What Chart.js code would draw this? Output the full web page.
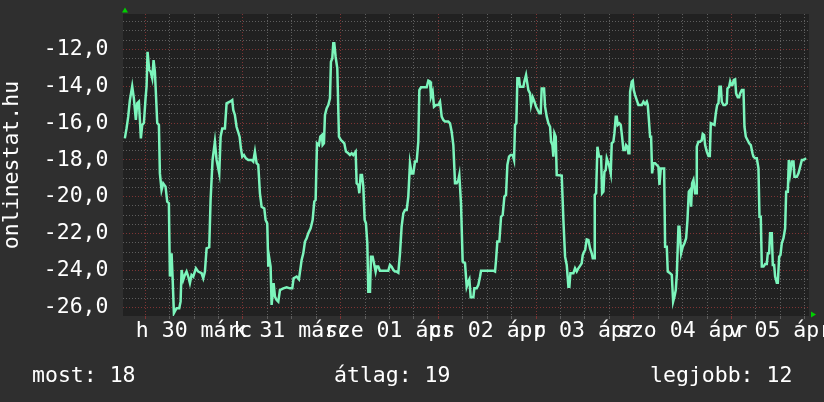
<!DOCTYPE html>
<html>
<head>
<meta charset="utf-8">
<script src="https://cdn.jsdelivr.net/npm/chart.js@4/dist/chart.umd.min.js"></script>
<style>
  html, body { margin: 0; padding: 0; background: #2f2f2f; }
  canvas { display: block; }
</style>
</head>
<body>
<canvas id="tempChart" width="824" height="402"></canvas>
<script>
// hours since márc 30 00:00, temperature
const readings = [
  [-5.0,-16.83],[-4.58,-16.29],[-4.17,-15.65],[-3.76,-14.75],[-3.19,-14.0],[-2.78,-14.66],[-2.29,-15.83],[-1.96,-14.93],
  [-1.55,-14.84],[-1.3,-15.83],[-1.06,-16.83],[-0.73,-16.1],[-0.32,-16.0],[0.09,-14.66],[0.34,-14.0],[0.58,-12.13],
  [0.99,-13.12],[1.32,-13.2],[1.73,-13.57],[2.06,-12.58],[2.38,-13.2],[2.55,-14.0],[2.96,-16.0],[3.37,-16.1],
  [3.61,-18.73],[4.02,-19.63],[4.43,-19.27],[5.0,-19.45],[5.41,-20.26],[5.82,-20.35],[6.07,-24.33],[6.48,-23.07],
  [6.72,-24.33],[7.05,-26.32],[7.71,-26.05],[8.36,-26.05],[8.69,-25.69],[8.94,-23.97],[9.35,-24.51],[9.75,-24.24],
  [10.16,-24.06],[10.57,-24.33],[10.98,-24.69],[11.39,-24.24],[11.8,-24.33],[12.46,-23.88],[13.03,-24.06],[13.85,-24.15],
  [14.26,-24.42],[14.67,-24.06],[15.08,-22.8],[15.73,-22.74],[16.06,-20.17],[16.55,-18.0],[17.12,-17.0],[17.53,-18.0],
  [18.19,-18.73],[18.52,-16.74],[18.93,-16.29],[19.58,-16.29],[19.99,-14.93],[20.81,-14.84],[21.38,-14.75],[21.63,-15.29],
  [22.03,-15.56],[22.44,-16.2],
  [23.19,-16.74],[23.51,-17.37],[23.84,-17.82],[24.25,-17.73],[24.74,-17.91],[25.32,-18.0],[26.13,-18.0],[26.54,-18.09],
  [26.95,-17.55],[27.36,-18.18],[27.77,-18.27],[28.18,-19.81],[28.59,-20.54],[29.25,-20.63],[29.57,-21.26],[29.98,-21.44],
  [30.23,-23.79],[30.48,-23.34],[30.8,-23.79],[31.05,-25.87],[31.54,-24.69],[31.87,-25.42],[32.28,-25.6],[32.69,-25.69],
  [33.1,-25.06],[33.91,-24.97],[34.73,-24.91],[35.55,-24.97],[36.12,-24.97],[36.45,-24.42],[37.19,-24.33],[37.76,-24.48],
  [38.42,-23.43],[38.83,-23.07],[39.24,-22.43],[39.65,-22.25],[40.06,-21.98],[40.63,-21.71],[41.12,-21.26],[41.53,-20.26],
  [41.86,-20.17],[42.19,-17.1],[42.68,-17.19],[43.0,-16.74],[43.41,-16.65],[43.58,-17.19],[43.9,-17.1],[44.15,-15.56],
  [44.56,-15.2],[44.97,-15.02],[45.38,-14.66],[45.62,-12.67],[45.95,-12.49],[46.2,-11.67],[46.44,-11.67],[46.77,-12.4],
  [47.18,-13.03],[47.59,-16.74],[48.08,-16.92],[48.49,-17.01],[48.9,-17.1],[49.31,-17.55],[49.88,-17.64],[50.29,-17.73],
  [50.7,-17.64],
  [51.1,-17.73],[51.69,-17.55],[51.93,-19.27],[52.34,-19.36],[52.59,-19.81],[52.91,-18.82],[53.24,-18.82],[53.57,-19.45],
  [53.9,-21.26],[54.22,-21.44],[54.55,-22.52],[54.8,-25.15],[55.21,-25.15],[55.45,-23.25],[55.86,-23.25],[56.19,-23.61],
  [56.6,-24.06],[56.85,-23.79],[57.25,-23.79],[57.66,-24.01],[59.71,-24.01],[60.12,-23.7],[60.53,-23.79],[60.94,-23.97],
  [61.35,-24.06],[61.76,-24.06],[62.17,-24.12],[62.58,-23.07],[62.98,-21.62],[63.39,-20.9],[63.8,-20.72],[64.22,-20.72],
  [64.62,-19.99],[65.03,-18.18],[65.44,-18.73],[65.85,-18.73],[66.26,-18.09],[66.67,-18.09],[67.08,-17.01],[67.33,-14.21],
  [67.74,-14.06],[69.13,-14.06],[69.54,-13.7],[69.95,-13.75],[70.19,-14.57],[70.6,-14.3],[70.93,-15.11],[71.42,-15.02],
  [71.99,-15.02],[72.41,-14.84],[72.82,-15.65],[73.22,-15.83],[73.63,-15.92],[74.45,-15.92],[74.86,-16.01],[75.27,-16.47],
  [75.68,-17.19],[76.09,-19.27],[76.5,-19.27],[76.91,-19.09],[77.15,-18.82],[77.56,-20.35],[77.97,-23.52],[78.55,-23.61],
  [78.96,-24.88],[79.37,-24.6],
  [79.62,-24.48],[79.94,-25.45],[80.6,-25.45],[80.84,-24.97],[81.42,-24.97],[81.83,-24.78],[82.24,-24.33],[82.48,-24.01],
  [85.51,-24.01],[85.92,-24.06],[86.17,-23.43],[86.49,-22.43],[86.98,-22.43],[87.4,-21.08],[87.8,-20.99],[88.22,-19.99],
  [88.62,-19.9],[88.95,-18.27],[89.36,-17.82],[89.77,-17.73],[90.26,-17.73],[90.59,-18.0],[90.83,-16.1],[91.16,-16.01],
  [91.41,-13.57],[91.82,-13.57],[92.06,-14.03],[92.88,-14.03],[93.12,-13.75],[93.54,-13.39],[93.78,-13.75],[94.11,-14.21],
  [94.52,-14.39],[94.77,-15.02],[95.18,-14.6],[95.59,-14.84],[96.0,-15.11],[96.4,-15.29],[96.81,-15.47],[97.14,-15.47],
  [97.38,-14.12],[97.96,-14.12],[98.21,-15.11],[98.62,-15.65],[99.03,-16.01],[99.44,-16.2],[99.68,-17.01],[100.01,-17.19],
  [100.25,-17.82],[100.5,-16.56],[100.83,-16.74],[101.07,-18.82],[102.3,-18.85],[102.71,-21.26],[103.12,-23.25],[103.53,-23.7],
  [103.94,-24.88],[104.18,-24.88],[104.43,-24.15],[105.16,-24.15],[105.57,-23.88],[105.98,-24.06],[106.39,-23.88],[106.8,-23.75],
  [107.2,-23.61],
  [107.46,-23.16],[107.79,-22.98],[108.04,-22.89],[108.44,-22.31],[108.85,-22.34],[109.26,-22.8],[109.67,-23.07],[109.92,-23.34],
  [110.25,-23.34],[110.41,-19.9],[110.74,-19.81],[111.07,-17.28],[111.47,-17.82],[111.97,-17.82],[112.21,-19.81],[112.54,-19.72],
  [112.78,-18.64],[113.11,-18.55],[113.36,-17.91],[113.77,-18.18],[114.01,-18.37],[114.34,-18.73],[114.58,-17.1],[114.99,-17.01],
  [115.24,-16.56],[115.57,-15.65],[115.81,-15.65],[116.06,-16.1],[116.47,-16.01],[116.8,-16.1],[117.12,-16.74],[117.45,-17.46],
  [117.86,-17.46],[118.11,-17.19],[118.44,-17.28],[118.68,-17.64],[118.93,-17.64],[119.09,-14.3],[119.5,-13.75],[119.75,-13.7],
  [119.99,-14.21],[120.32,-14.48],[120.73,-14.75],[121.14,-15.02],[121.96,-15.02],[122.37,-14.84],[122.78,-14.97],[123.19,-14.84],
  [123.43,-15.02],[123.68,-15.74],[124.0,-16.74],[124.25,-16.74],[124.5,-18.73],[124.82,-18.18],[125.23,-18.18],[126.05,-18.37],
  [126.3,-19.36],[126.63,-18.46],[127.45,-18.46],[127.69,-22.71],[128.1,-22.71],[128.34,-24.06],[128.92,-24.15],[129.33,-24.24],
  [129.66,-25.69],[129.98,-25.42],[130.31,-25.06],[130.56,-24.24],[130.97,-21.62],[131.21,-21.62],[131.62,-23.07],[132.03,-22.71],
  [132.44,-22.52],[132.85,-22.25],[133.18,-21.26],[133.51,-19.72],[133.83,-19.63],[134.08,-20.54],[134.32,-19.27],[134.65,-19.09],
  [135.06,-19.81],
  [135.31,-19.81],[135.47,-17.28],[135.88,-17.01],[136.29,-17.01],[136.7,-16.92],[136.94,-16.59],[137.27,-16.65],[137.52,-17.19],
  [137.93,-17.55],[138.34,-17.79],[138.67,-17.79],[138.91,-16.01],[139.32,-16.05],[139.81,-16.1],[140.14,-15.47],[140.47,-15.02],
  [140.8,-14.93],[141.04,-14.03],[141.37,-14.03],[141.61,-14.84],[142.02,-15.02],[142.43,-15.02],[142.84,-14.93],[143.0,-14.12],
  [143.41,-14.03],[143.66,-13.75],[143.9,-13.93],[144.23,-13.93],[144.56,-13.66],[144.89,-13.63],[145.13,-14.39],[145.54,-14.6],
  [145.87,-14.6],[146.12,-14.39],[146.53,-14.21],[146.94,-14.21],[147.18,-16.2],[147.51,-16.74],[147.92,-16.92],[148.33,-17.1],
  [148.74,-17.19],[149.15,-17.64],[149.39,-17.82],[149.8,-17.91],[150.21,-17.91],[150.62,-18.46],[150.87,-21.08],[151.19,-21.08],
  [151.44,-23.79],[151.85,-23.79],[152.26,-23.65],[152.67,-23.65],[152.91,-23.07],[153.24,-23.07],[153.48,-21.98],[153.89,-21.98],
  [154.14,-23.7],[154.47,-23.7],[154.71,-24.33],[155.12,-24.66],[155.37,-24.66],[155.7,-23.25],[156.02,-23.16],[156.35,-22.52],
  [156.76,-22.25],[157.17,-21.71],[157.42,-19.72],[157.83,-19.72],[158.07,-18.0],[158.4,-18.73],[158.81,-18.09],[159.22,-18.09],
  [159.46,-18.91],[160.04,-18.91],[160.45,-18.73],[160.86,-18.37],[161.27,-18.0],[161.68,-18.0],[162.33,-17.91]
];

const dayLabels = ['h 30 márc', 'k 31 márc', 'sze 01 ápr', 'cs 02 ápr', 'p 03 ápr', 'szo 04 ápr', 'v 05 ápr'];
const summary = ['most: 18', 'átlag: 19', 'legjobb: 12'];
const yTitle = 'onlinestat.hu';

const FONT = '"DejaVu Sans Mono", monospace';
const FSIZE = 21.5;
const gridMinor = '#5e5e5e';
const gridMajor = '#7e3434';

const backdrop = {
  id: 'backdrop',
  beforeDraw(chart) {
    const { ctx, chartArea: a } = chart;
    ctx.save();
    ctx.fillStyle = '#2f2f2f';
    ctx.fillRect(0, 0, chart.width, chart.height);
    ctx.fillStyle = '#212121';
    ctx.fillRect(a.left, a.top, a.right - a.left, a.bottom - a.top);
    ctx.restore();
  },
  afterDraw(chart) {
    const { ctx, chartArea: a } = chart;
    ctx.save();
    // rrd style arrows
    ctx.fillStyle = '#00d000';
    ctx.beginPath();
    ctx.moveTo(a.left + 2, 7.5);
    ctx.lineTo(a.left - 1, 12.5);
    ctx.lineTo(a.left + 5, 12.5);
    ctx.fill();
    ctx.beginPath();
    ctx.moveTo(a.right + 7, a.bottom - 1.5);
    ctx.lineTo(a.right + 2, a.bottom - 4.5);
    ctx.lineTo(a.right + 2, a.bottom + 1.5);
    ctx.fill();
    // summary line
    ctx.font = FSIZE + 'px ' + FONT;
    ctx.fillStyle = '#ffffff';
    ctx.textBaseline = 'alphabetic';
    ctx.fillText(summary[0], 32, 381.5);
    ctx.fillText(summary[1], 334, 381.5);
    ctx.fillText(summary[2], 650, 381.5);
    ctx.restore();
  }
};

new Chart(document.getElementById('tempChart'), {
  type: 'line',
  data: {
    datasets: [{
      data: readings.map(([h, t]) => ({ x: h, y: t })),
      borderColor: '#7cf5bc',
      borderWidth: 2.5,
      pointRadius: 0,
      tension: 0
    }]
  },
  options: {
    responsive: false,
    animation: false,
    devicePixelRatio: 1,
    layout: { padding: { top: 14, right: 15, left: 0, bottom: 0 } },
    plugins: { legend: { display: false }, tooltip: { enabled: false } },
    scales: {
      x: {
        type: 'linear',
        min: -5.45,
        max: 163.03,
        afterBuildTicks(scale) {
          const t = [];
          for (let h = 0; h <= 162; h += 6) t.push({ value: h });
          scale.ticks = t;
        },
        afterFit(scale) { scale.height = 86; },
        border: { display: false, dash: [1, 2] },
        grid: {
          color: c => (c.tick && c.tick.value % 24 === 0) ? gridMajor : gridMinor,
          tickColor: c => (c.tick && c.tick.value % 24 === 0) ? gridMajor : gridMinor,
          tickLength: 3,
          lineWidth: 1
        },
        ticks: {
          autoSkip: false,
          maxRotation: 0,
          minRotation: 0,
          padding: 0,
          color: '#ffffff',
          font: { family: FONT, size: FSIZE },
          callback: v => (v % 24 === 12) ? dayLabels[(v - 12) / 24] : ''
        }
      },
      y: {
        min: -26.47,
        max: -10.08,
        afterBuildTicks(scale) {
          const t = [];
          for (let v = -26; v <= -10.5; v += 0.5) t.push({ value: v });
          scale.ticks = t;
        },
        afterFit(scale) { scale.width = 123; },
        border: { display: false, dash: [1, 2] },
        grid: {
          color: c => (c.tick && Math.abs(c.tick.value % 2) < 1e-9) ? gridMajor : gridMinor,
          tickColor: 'rgba(0,0,0,0)',
          tickLength: 14.5,
          lineWidth: 1
        },
        ticks: {
          autoSkip: false,
          padding: 0,
          color: '#ffffff',
          font: { family: FONT, size: FSIZE },
          callback: v => Math.abs(v % 2) < 1e-9 ? v.toFixed(1).replace('.', ',') : ''
        },
        title: {
          display: true,
          text: yTitle,
          color: '#ffffff',
          font: { family: FONT, size: FSIZE, lineHeight: 1.0 },
          padding: { top: 2, bottom: 0 }
        }
      }
    }
  },
  plugins: [backdrop]
});
</script>
</body>
</html>
